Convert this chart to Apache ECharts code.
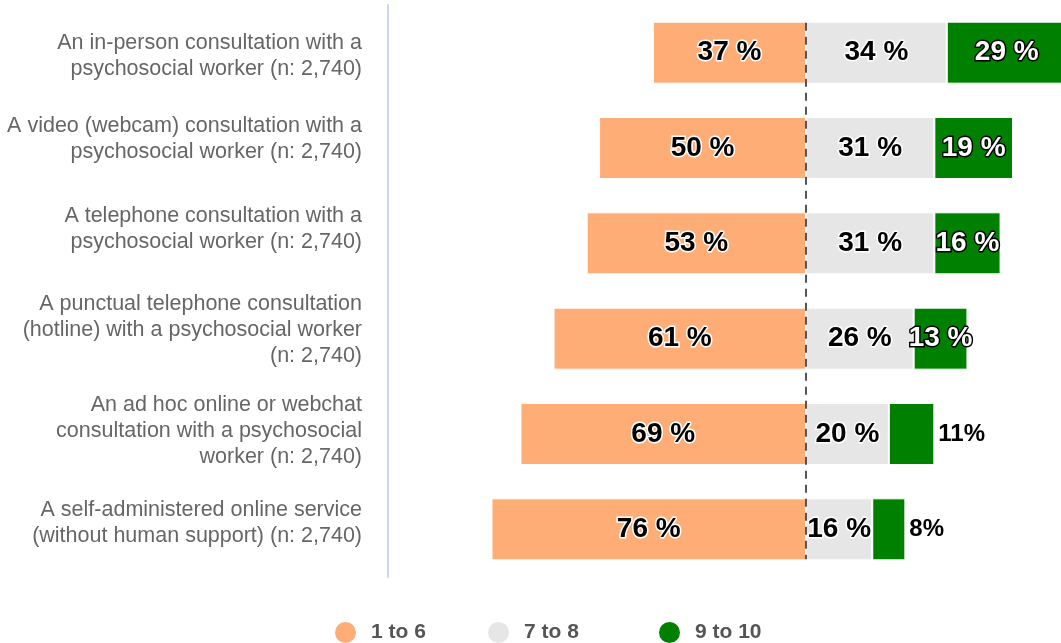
<!DOCTYPE html>
<html>
<head>
<meta charset="utf-8">
<style>
  html, body { margin: 0; padding: 0; background: #fff; }
  #chart { width: 1061px; height: 643px; }
</style>
<script src="https://cdn.jsdelivr.net/npm/echarts@6/dist/echarts.min.js"></script>
</head>
<body>
<div id="chart"></div>
<script>
// Ratings of consultation formats (share of respondents per score band)
const categories = [
  'An in-person consultation with a\npsychosocial worker (n: 2,740)',
  'A video (webcam) consultation with a\npsychosocial worker (n: 2,740)',
  'A telephone consultation with a\npsychosocial worker (n: 2,740)',
  'A punctual telephone consultation\n(hotline) with a psychosocial worker\n(n: 2,740)',
  'An ad hoc online or webchat\nconsultation with a psychosocial\nworker (n: 2,740)',
  'A self-administered online service\n(without human support) (n: 2,740)'
];
const seriesNames = ['1 to 6', '7 to 8', '9 to 10'];
const low = [37, 50, 53, 61, 69, 76];
const mid = [34, 31, 31, 26, 20, 16];
const high = [29, 19, 16, 13, 11, 8];

const FONT = "'Liberation Sans', Arial, sans-serif";
const COLORS = ['#ffad77', '#e6e6e6', '#008000'];
const BAR_H = 62;
const X_MIN = -101;
const X_MAX = 61.6;
// vertical nudge (px, positive = down) of each category label block
const labelNudge = [3, -9, -14, -9, -3, -6];

const darkLabel = {
  show: true, position: 'inside',
  fontFamily: FONT, fontSize: 28, fontWeight: 'bold',
  color: '#000', textBorderColor: '#fff', textBorderWidth: 3,
  formatter: p => Math.abs(p.value) + ' %'
};
const lightLabel = Object.assign({}, darkLabel, {
  color: '#fff', textBorderColor: '#000'
});
// Narrow segments carry their value just outside the bar
const outsideLabel = {
  show: true, position: 'right', distance: 4,
  fontFamily: FONT, fontSize: 24, fontWeight: 'bold',
  color: '#000', textBorderWidth: 0,
  formatter: p => p.value + '%'
};

const chart = echarts.init(document.getElementById('chart'), null, { renderer: 'canvas' });

const legendBase = {
  top: 620, padding: 0, icon: 'circle', itemWidth: 23, itemHeight: 23, itemGap: 0,
  textStyle: { fontFamily: FONT, fontSize: 21, fontWeight: 'bold', color: '#555', padding: [0, 0, 0, 9] },
  selectedMode: false
};

chart.setOption({
  animation: false,
  textStyle: { fontFamily: FONT },
  legend: [
    Object.assign({}, legendBase, { left: 333, data: [seriesNames[0]] }),
    Object.assign({}, legendBase, { left: 486, data: [seriesNames[1]] }),
    Object.assign({}, legendBase, { left: 657, data: [seriesNames[2]] })
  ],
  grid: { left: 388, right: 0, top: 5, bottom: 66, containLabel: false },
  xAxis: {
    type: 'value', min: X_MIN, max: X_MAX,
    axisLine: { show: false }, axisTick: { show: false },
    axisLabel: { show: false }, splitLine: { show: false }
  },
  yAxis: {
    type: 'category', inverse: true, data: categories,
    axisLine: { show: true, onZero: false, lineStyle: { color: '#ccd6eb', width: 2 } },
    axisTick: { show: false },
    axisLabel: { show: false }
  },
  series: [
    {
      name: seriesNames[0], type: 'bar', stack: 'total', barWidth: BAR_H,
      itemStyle: { color: COLORS[0], borderColor: '#fff', borderWidth: 1 },
      label: darkLabel,
      data: low.map(v => -v)
    },
    {
      name: seriesNames[1], type: 'bar', stack: 'total', barWidth: BAR_H,
      itemStyle: { color: COLORS[1], borderColor: '#fff', borderWidth: 1 },
      label: darkLabel,
      data: mid
    },
    {
      name: seriesNames[2], type: 'bar', stack: 'total', barWidth: BAR_H, clip: false,
      itemStyle: { color: COLORS[2], borderColor: '#fff', borderWidth: 1 },
      label: lightLabel,
      data: high.map(v => v < 12 ? { value: v, label: outsideLabel } : v)
    },
    {
      // category names, right-aligned against the left edge of the plot
      type: 'custom', silent: true, clip: false,
      data: categories.map((c, i) => [X_MIN, i]),
      renderItem: function (params, api) {
        const i = params.dataIndex;
        const pt = api.coord([api.value(0), api.value(1)]);
        return {
          type: 'text',
          x: pt[0] - 26,
          y: pt[1] + labelNudge[i],
          style: {
            text: categories[i],
            fill: '#666',
            font: "21.5px 'Liberation Sans', Arial, sans-serif",
            lineHeight: 26,
            align: 'right',
            verticalAlign: 'middle'
          }
        };
      }
    },
    {
      // dashed zero line spanning from the first bar's top to the last bar's bottom
      type: 'custom', z: 10, silent: true,
      data: [[0, 0]],
      renderItem: function (params, api) {
        const top = api.coord([0, 0]);
        const bot = api.coord([0, categories.length - 1]);
        const x = Math.round(top[0]);
        return {
          type: 'line',
          shape: { x1: x, y1: top[1] - BAR_H / 2 + 1, x2: x, y2: bot[1] + BAR_H / 2 - 1 },
          style: { stroke: '#555', lineWidth: 2, lineDash: [8, 6] }
        };
      }
    }
  ]
});
</script>
</body>
</html>
